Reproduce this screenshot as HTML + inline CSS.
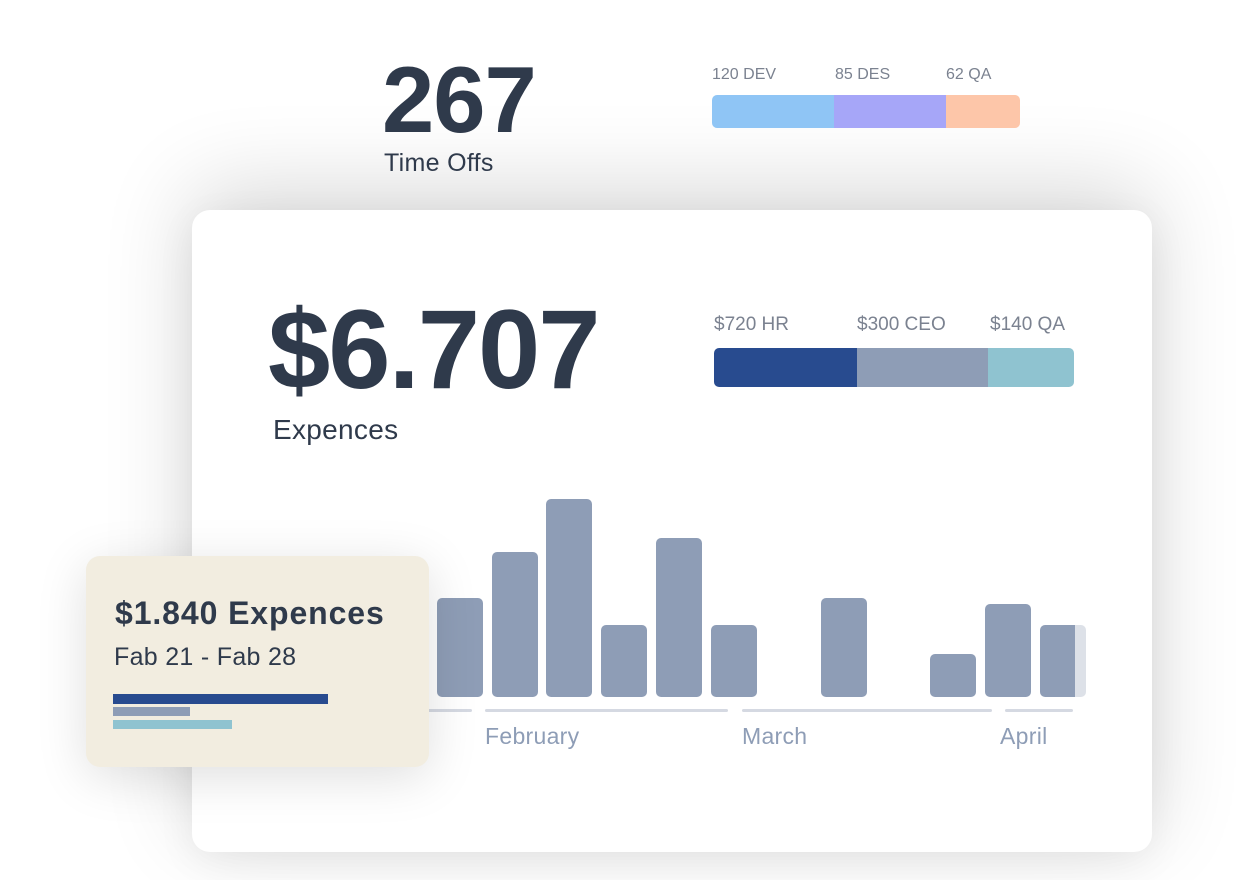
<!DOCTYPE html>
<html><head><meta charset="utf-8"><style>
body{margin:0;width:1240px;height:880px;background:#fff;position:relative;overflow:hidden;font-family:"Liberation Sans",sans-serif;color:#2f3a4b}
.a{position:absolute}
.card{left:192px;top:210px;width:960px;height:642px;background:#fff;border-radius:18px;box-shadow:0 -20px 90px rgba(0,0,0,0.16),0 10px 40px rgba(0,0,0,0.06)}
.lbl{font-size:16px;color:#7b8290}
.bar{background:#8e9db6;border-radius:5px;width:46px;bottom:183px}
.ax{height:3px;background:#d5d9e2;top:709px;border-radius:2px}
.m{font-size:23px;color:#8e9db6;top:723px}
.tip{left:86px;top:556px;width:343px;height:211px;background:#f2ede0;border-radius:14px;box-shadow:0 10px 50px rgba(0,0,0,0.13)}
</style></head><body>
<div class="a card"></div>
<div class="a" style="left:382px;top:50px;font-size:94px;font-weight:bold;letter-spacing:-1px;line-height:100px">267</div>
<div class="a" style="left:384px;top:149px;font-size:25px;letter-spacing:0.3px">Time Offs</div>
<div class="a lbl" style="left:712px;top:66px">120 DEV</div>
<div class="a lbl" style="left:835px;top:66px">85 DES</div>
<div class="a lbl" style="left:946px;top:66px">62 QA</div>
<div class="a" style="left:712px;top:95px;width:308px;height:33px;border-radius:5px;overflow:hidden;display:flex">
<div style="width:122px;background:#8fc5f5"></div><div style="width:112px;background:#a6a6f8"></div><div style="flex:1;background:#fdc6a9"></div></div>

<div class="a" style="left:268px;top:290px;font-size:112px;font-weight:bold;letter-spacing:-2px;line-height:120px">$6.707</div>
<div class="a" style="left:273px;top:414px;font-size:28px;letter-spacing:0.3px">Expences</div>
<div class="a lbl" style="left:714px;top:314px;font-size:19px">$720 HR</div>
<div class="a lbl" style="left:857px;top:314px;font-size:19px">$300 CEO</div>
<div class="a lbl" style="left:990px;top:314px;font-size:19px">$140 QA</div>
<div class="a" style="left:714px;top:348px;width:360px;height:39px;border-radius:5px;overflow:hidden;display:flex">
<div style="width:143px;background:#284b8f"></div><div style="width:131px;background:#8e9db6"></div><div style="flex:1;background:#8fc3d0"></div></div>

<div class="a bar" style="left:437px;top:598px"></div>
<div class="a bar" style="left:492px;top:552px"></div>
<div class="a bar" style="left:546px;top:499px"></div>
<div class="a bar" style="left:601px;top:625px"></div>
<div class="a bar" style="left:656px;top:538px"></div>
<div class="a bar" style="left:711px;top:625px"></div>
<div class="a bar" style="left:821px;top:598px"></div>
<div class="a bar" style="left:930px;top:654px"></div>
<div class="a bar" style="left:985px;top:604px"></div>
<div class="a bar" style="left:1040px;top:625px;background:linear-gradient(90deg,#8e9db6 0 35px,#dde1e8 35px)"></div>
<div class="a ax" style="left:400px;width:72px"></div>
<div class="a ax" style="left:485px;width:243px"></div>
<div class="a ax" style="left:742px;width:250px"></div>
<div class="a ax" style="left:1005px;width:68px"></div>
<div class="a m" style="left:485px;letter-spacing:0.3px">February</div>
<div class="a m" style="left:742px;letter-spacing:0.3px">March</div>
<div class="a m" style="left:1000px;letter-spacing:0.3px">April</div>

<div class="a tip"></div>
<div class="a" style="left:115px;top:595px;font-size:32px;font-weight:bold;letter-spacing:0.9px">$1.840 Expences</div>
<div class="a" style="left:114px;top:643px;font-size:25px;letter-spacing:0.3px">Fab 21 - Fab 28</div>
<div class="a" style="left:113px;top:694px;width:215px;height:10px;background:#284b8f"></div>
<div class="a" style="left:113px;top:707px;width:77px;height:9px;background:#8e9db6"></div>
<div class="a" style="left:113px;top:720px;width:119px;height:9px;background:#8fc3d0"></div>
</body></html>
